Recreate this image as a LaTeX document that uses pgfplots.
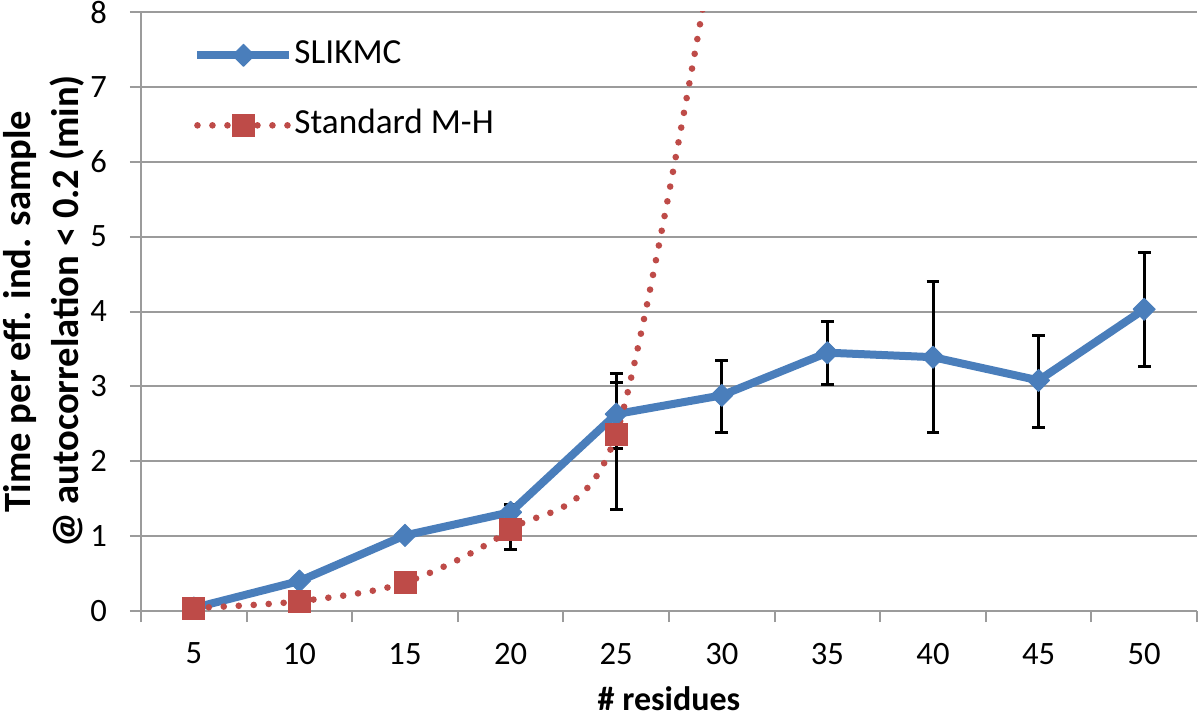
\documentclass[border=0pt]{standalone}
\usepackage{fontspec}
\setmainfont{Carlito}
\usepackage{pgfplots}
\usepackage{pgfplotstable}
\pgfplotsset{compat=1.18}
\definecolor{sblue}{RGB}{74,126,187}
\definecolor{sred}{RGB}{190,75,72}
\definecolor{gridc}{RGB}{155,155,155}

\pgfplotstableread{
x y
0 0.04
1 0.40
2 1.01
3 1.32
4 2.63
5 2.88
6 3.45
7 3.39
8 3.08
9 4.03
}\slikmc

\pgfplotstableread{
x y ep em
4 2.63 0.54 0.46
5 2.88 0.47 0.49
6 3.45 0.41 0.43
7 3.39 1.01 1.01
8 3.08 0.60 0.63
9 4.03 0.76 0.76
}\slikmcerr

\pgfplotstableread{
x y
0 0.04
1 0.13
2 0.38
3 1.09
4 2.36
5 9.5
}\mh

\pgfplotstableread{
x y ep em
3 1.09 0.33 0.27
4 2.36 0.69 1.00
}\mherr

\begin{document}
\begin{tikzpicture}
\begin{axis}[
  scale only axis, width=528pt, height=299.5pt,
  xmin=-0.5, xmax=9.5, ymin=0, ymax=8,
  xtick={-0.5,0.5,...,9.5}, x tick label as interval,
  xticklabels={5,10,15,20,25,30,35,40,45,50},
  ytick={0,...,8},
  ymajorgrids, grid style={draw=gridc, line width=1pt},
  axis lines*=left, axis line style={draw=gridc, line width=1pt, -},
  tick style={draw=gridc, line width=1pt}, tick align=outside, major tick length=5.5pt,
  xtick pos=bottom, ytick pos=left,
  tick label style={font=\fontsize{16.3}{19}\selectfont},
  xticklabel style={yshift=-7pt},
  yticklabel style={xshift=-8pt},
  /pgf/number format/assume math mode=true,
  xlabel={\# residues},
  ylabel={Time per eff. ind. sample\\@ autocorrelation < 0.2 (min)},
  xlabel style={font=\bfseries\fontsize{17}{20}\selectfont, at={(axis description cs:0.5,-0.126)}, anchor=north, inner sep=0pt},
  ylabel style={font=\bfseries\fontsize{19.3}{24}\selectfont, align=center, at={(axis description cs:-0.053,0.5)}, anchor=south, inner sep=0pt},
  legend style={draw=none, fill=none, at={(axis description cs:0.0493,0.955)}, anchor=north west,
    inner sep=0pt, row sep=19pt, column sep=0.5pt,
    nodes={inner sep=0pt, text height=12pt, text depth=4pt},
    font=\fontsize{17.6}{20}\selectfont},
  legend cell align=left,
  legend image code/.code={\draw[mark indices={2}] plot coordinates {(0pt,0pt) (23pt,0pt) (46pt,0pt)};},
]
% error bars (behind markers)
\addplot[forget plot, only marks, mark=none, black,
  error bars/.cd, y dir=both, y explicit,
  error bar style={black, line width=1.5pt},
  error mark options={black, line width=1.5pt, mark size=3.2pt, rotate=90}]
  table[x=x, y=y, y error plus=ep, y error minus=em] {\slikmcerr};
\addplot[forget plot, only marks, mark=none, black,
  error bars/.cd, y dir=both, y explicit,
  error bar style={black, line width=1.5pt},
  error mark options={black, line width=1.5pt, mark size=3.2pt, rotate=90}]
  table[x=x, y=y, y error plus=ep, y error minus=em] {\mherr};
% SLIKMC
\addplot[sblue, line width=4pt, line join=round, mark=square*,
  mark options={rotate=45, mark size=3.9pt, solid, line width=0.5pt, fill=sblue}]
  table[x=x, y=y] {\slikmc};
\addlegendentry{SLIKMC}
% Standard M-H
\addplot[sred, line width=3.3pt, line cap=round, dash pattern=on 0pt off 7.5pt, smooth,
  mark=square*, mark indices={1,...,5},
  mark options={solid, mark size=5.5pt, line width=0.5pt, fill=sred}]
  table[x=x, y=y] {\mh};
\addlegendentry{Standard M-H}
\end{axis}
\pgfresetboundingbox
\path ([shift={(-70.5pt,-53.5pt)}]current axis.south west) rectangle ([shift={(1.5pt,6pt)}]current axis.north east);
\end{tikzpicture}
\end{document}
